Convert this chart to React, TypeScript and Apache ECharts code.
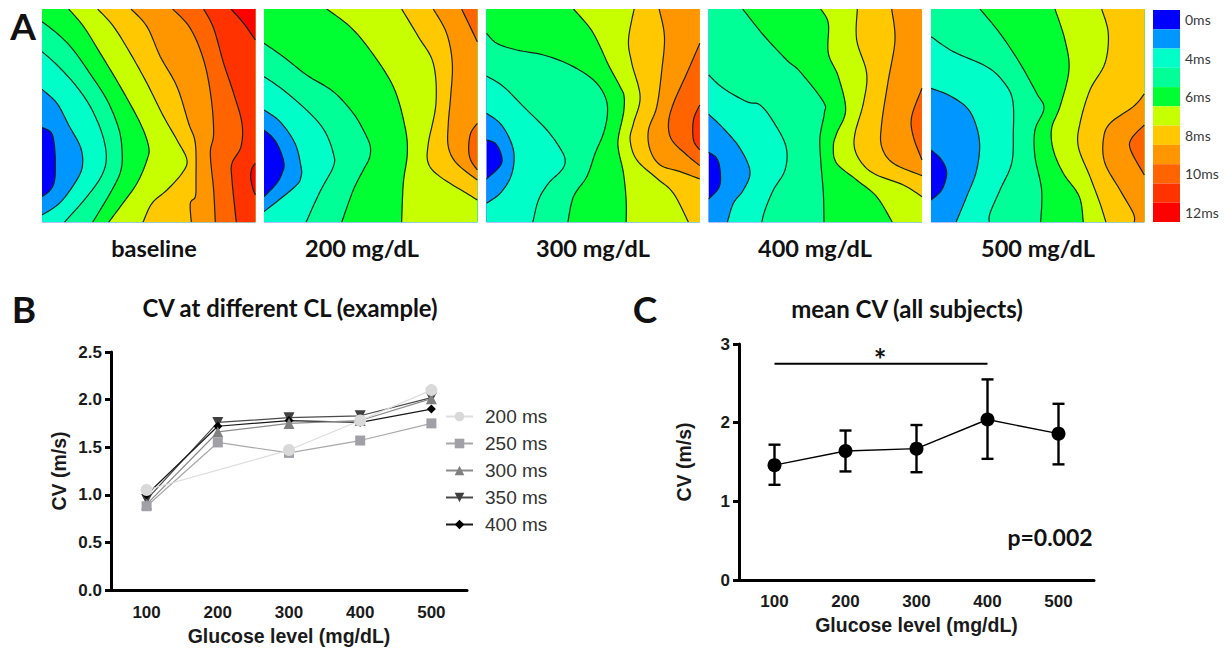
import React, { useEffect, useRef } from "react";
import * as echarts from "echarts";

// ---------- Panel A: isochrone contours ----------
// Each entry: [band filled on the far side of the contour, contour points]
type Contour = [number, number[][]];

const bandColors = ["#0000ff", "#0096ff", "#00ffc8", "#00ff96", "#00ff32", "#c8ff00", "#ffc800", "#ff9600", "#ff6400", "#ff3200", "#ff0000"];
const bandLabels = ["0ms", "", "4ms", "", "6ms", "", "8ms", "", "10ms", "", "12ms"];
const bandUnits = [1, 1, 1, 1, 1, 1, 1, 1, 1, 1, 1];
const mapNames = ["baseline", "200 mg/dL", "300 mg/dL", "400 mg/dL", "500 mg/dL"];

const baselineContours: Contour[] = [
  [1, [[125, 382], [150, 395], [160, 420], [165, 480], [163, 540], [150, 570], [125, 590]]],
  [2, [[125, 268], [170, 310], [205, 375], [240, 440], [247, 490], [235, 530], [195, 590], [165, 620], [125, 645]]],
  [3, [[125, 155], [170, 195], [225, 255], [270, 320], [305, 400], [318, 470], [305, 525], [260, 590], [192, 667]]],
  [4, [[125, 65], [170, 100], [215, 145], [265, 215], [320, 300], [355, 385], [365, 450], [362, 510], [335, 570], [277, 667]]],
  [5, [[205, 27], [250, 80], [300, 160], [360, 260], [420, 370], [445, 440], [440, 480], [410, 550], [360, 620], [325, 667]]],
  [6, [[292, 27], [340, 80], [390, 160], [440, 250], [490, 350], [530, 420], [560, 480], [545, 520], [500, 570], [455, 610], [428, 667]]],
  [7, [[392, 27], [440, 80], [480, 170], [530, 260], [565, 370], [585, 430], [587, 540], [585, 590], [570, 610], [573, 667]]],
  [8, [[517, 27], [570, 85], [610, 180], [632, 290], [640, 400], [630, 460], [640, 570], [645, 667]]],
  [9, [[610, 27], [640, 85], [670, 190], [700, 280], [725, 370], [722, 440], [695, 490], [695, 540], [708, 667]]],
  [10, [[692, 27], [730, 70], [765, 120]]],
  [10, [[765, 490], [755, 505], [751, 530], [756, 560], [765, 585]]],
];
const glucose200Contours: Contour[] = [
  [1, [[792, 390], [820, 415], [840, 450], [852, 490], [848, 515], [830, 550], [792, 590]]],
  [2, [[792, 330], [840, 365], [885, 430], [903, 500], [903, 530], [885, 560], [792, 635]]],
  [3, [[792, 230], [850, 270], [930, 340], [975, 395], [1000, 460], [1000, 500], [960, 575], [918, 667]]],
  [4, [[792, 130], [850, 170], [920, 225], [1000, 275], [1060, 340], [1095, 400], [1111, 440], [1108, 475], [1090, 510], [1060, 570], [1025, 667]]],
  [5, [[980, 27], [1050, 80], [1110, 150], [1180, 260], [1215, 380], [1222, 460], [1210, 550], [1205, 667]]],
  [6, [[1205, 27], [1255, 110], [1300, 190], [1308, 310], [1285, 430], [1285, 490], [1320, 530], [1400, 580], [1432, 600]]],
  [7, [[1300, 27], [1340, 100], [1357, 190], [1352, 290], [1345, 370], [1345, 440], [1370, 490], [1432, 540]]],
  [8, [[1385, 27], [1432, 125]]],
  [8, [[1432, 370], [1412, 400], [1406, 445], [1412, 480], [1432, 510]]],
];
const glucose300Contours: Contour[] = [
  [1, [[19, 420], [45, 430], [62, 460], [62, 495], [19, 537]]],
  [2, [[19, 340], [60, 370], [90, 420], [102, 470], [92, 530], [60, 580], [19, 610]]],
  [3, [[19, 228], [70, 260], [130, 320], [200, 390], [240, 445], [255, 480], [245, 510], [205, 550], [175, 600], [158, 667]]],
  [4, [[19, 100], [50, 130], [110, 150], [190, 165], [270, 195], [340, 240], [375, 290], [382, 340], [370, 400], [345, 460], [320, 530], [280, 590], [263, 667]]],
  [5, [[280, 27], [330, 85], [360, 140], [385, 195], [420, 260], [432, 290], [430, 340], [415, 410], [415, 450], [430, 520], [438, 600], [438, 667]]],
  [6, [[462, 27], [445, 120], [455, 190], [480, 290], [460, 370], [450, 420], [470, 480], [530, 535], [580, 580], [625, 667]]],
  [7, [[537, 27], [553, 110], [545, 210], [530, 320], [505, 390], [510, 450], [540, 495], [600, 515], [659, 537]]],
  [8, [[659, 130], [620, 220], [580, 310], [565, 370], [575, 420], [620, 465], [659, 497]]],
  [9, [[659, 315], [640, 360], [640, 420], [659, 450]]],
];
const glucose400Contours: Contour[] = [
  [1, [[686, 457], [710, 475], [720, 510], [718, 560], [686, 597]]],
  [2, [[686, 343], [730, 385], [780, 445], [810, 515], [790, 570], [760, 610], [742, 667]]],
  [3, [[686, 225], [730, 265], [800, 305], [840, 315], [880, 365], [918, 440], [915, 510], [880, 570], [855, 630], [845, 667]]],
  [4, [[788, 27], [850, 105], [920, 180], [960, 215], [1030, 305], [1033, 340], [1020, 410], [1022, 480], [1030, 580], [1032, 667]]],
  [5, [[1022, 27], [1045, 70], [1045, 160], [1075, 230], [1097, 330], [1070, 400], [1060, 440], [1070, 490], [1130, 540], [1190, 590], [1237, 667]]],
  [6, [[1132, 27], [1130, 120], [1160, 220], [1150, 310], [1125, 400], [1125, 450], [1150, 495], [1190, 525], [1270, 555], [1326, 590]]],
  [7, [[1235, 27], [1245, 120], [1225, 240], [1205, 370], [1205, 440], [1240, 490], [1326, 527]]],
  [8, [[1326, 265], [1295, 350], [1300, 410], [1326, 480]]],
];
const glucose500Contours: Contour[] = [
  [1, [[33, 450], [65, 480], [80, 520], [65, 570], [33, 600]]],
  [2, [[33, 265], [95, 290], [150, 335], [178, 420], [170, 510], [140, 590], [108, 667]]],
  [3, [[33, 110], [100, 155], [200, 200], [250, 245], [278, 300], [280, 400], [275, 490], [240, 570], [210, 640], [208, 667]]],
  [4, [[180, 27], [240, 100], [300, 190], [350, 280], [372, 325], [345, 390], [345, 470], [365, 570], [362, 667]]],
  [5, [[405, 27], [435, 120], [447, 210], [420, 320], [395, 385], [400, 450], [430, 520], [478, 590], [490, 667]]],
  [6, [[545, 27], [565, 100], [555, 190], [510, 270], [480, 370], [475, 440], [510, 530], [540, 610], [558, 667]]],
  [7, [[673, 282], [640, 320], [570, 370], [550, 420], [555, 490], [600, 570], [640, 640], [643, 667]]],
  [8, [[673, 375], [635, 415], [632, 450], [673, 525]]],
];
const allContours = [baselineContours, glucose200Contours, glucose300Contours, glucose400Contours, glucose500Contours];
// left edge of each panel in the reading frame of the contours above
const mapXStart = [125, 792, 19, 686, 33];

// ---------- Panel B ----------
const glucoseLevels = ["100", "200", "300", "400", "500"];
const cl200 = [1.05, null, 1.47, 1.78, 2.1];
const cl250 = [0.88, 1.55, 1.44, 1.57, 1.75];
const cl300 = [0.9, 1.66, 1.75, 1.78, 2.01];
const cl350 = [0.95, 1.76, 1.81, 1.83, 2.02];
const cl400 = [1.0, 1.72, 1.78, 1.76, 1.9];

// ---------- Panel C ----------
const meanCV = [1.46, 1.64, 1.67, 2.04, 1.86];
const meanUpper = [1.72, 1.9, 1.97, 2.55, 2.24];
const meanLower = [1.21, 1.38, 1.37, 1.54, 1.47];
const significance = [2.75, 2.75, 2.75, 2.75, null];

const ARIAL = "'Liberation Sans', Arial, sans-serif";
const CALIBRI = "Lato, 'Noto Sans', sans-serif";

function spline(pts: number[][]): number[][] {
  const out: number[][] = [];
  const n = pts.length;
  for (let i = 0; i < n - 1; i++) {
    const p0 = pts[Math.max(0, i - 1)], p1 = pts[i], p2 = pts[i + 1], p3 = pts[Math.min(n - 1, i + 2)];
    for (let s = 0; s < 8; s++) {
      const t = s / 8, t2 = t * t, t3 = t2 * t;
      const f = (a: number, b: number, c: number, d: number) =>
        0.5 * (2 * b + (c - a) * t + (2 * a - 5 * b + 4 * c - d) * t2 + (3 * b - a - 3 * c + d) * t3);
      out.push([f(p0[0], p1[0], p2[0], p3[0]), f(p0[1], p1[1], p2[1], p3[1])]);
    }
  }
  out.push(pts[n - 1]);
  return out;
}

// Walks the panel's border from the end of a contour back to its start, so
// the polygon encloses the later-activated side of the contour.
function borderWalk(end: number[], start: number[], x0: number, x1: number, y0: number, y1: number): number[][] {
  const S = x1 - x0;
  const param = (p: number[]) => {
    const d = [Math.abs(p[1] - y1), Math.abs(p[0] - x1), Math.abs(p[1] - y0), Math.abs(p[0] - x0)];
    const e = d.indexOf(Math.min(...d));
    if (e === 0) return p[0] - x0;
    if (e === 1) return S + (y1 - p[1]);
    if (e === 2) return 2 * S + (x1 - p[0]);
    return 3 * S + (p[1] - y0);
  };
  const corners: [number, number[]][] = [
    [S, [x1, y1]], [2 * S, [x1, y0]], [3 * S, [x0, y0]], [4 * S, [x0, y1]],
    [5 * S, [x1, y1]], [6 * S, [x1, y0]], [7 * S, [x0, y0]], [8 * S, [x0, y1]],
  ];
  const te = param(end);
  let ts = param(start);
  if (ts <= te) ts += 4 * S;
  return corners.filter((c) => c[0] > te && c[0] < ts).map((c) => c[1]);
}

function App() {
  const ref = useRef<HTMLDivElement>(null);
  useEffect(() => {
    const chart = echarts.init(ref.current!, undefined, { renderer: "svg" });

    const grids: any[] = [];
    const xAxes: any[] = [];
    const yAxes: any[] = [];
    const series: any[] = [];

    const panelLeft = [42, 264, 486.5, 708.7, 931];
    const S = 640;
    allContours.forEach((contours, p) => {
      const x0 = mapXStart[p], x1 = x0 + S, y0 = 27, y1 = 27 + S;
      grids.push({ left: panelLeft[p], top: 9, width: 213.3, height: 213.3, show: true, backgroundColor: bandColors[0], borderWidth: 0 });
      xAxes.push({ type: "value", gridIndex: p, min: x0, max: x1, show: false });
      yAxes.push({ type: "value", gridIndex: p, min: y0, max: y1, inverse: true, show: false });
      series.push({
        type: "custom",
        name: mapNames[p],
        coordinateSystem: "cartesian2d",
        xAxisIndex: p,
        yAxisIndex: p,
        clip: true,
        silent: true,
        data: contours.map((_, i) => [i, 0]),
        encode: { x: 0, y: 1 },
        renderItem: (params: any, api: any) => {
          const [band, pts] = contours[api.value(0)];
          const smooth = spline(pts);
          const tail = borderWalk(pts[pts.length - 1], pts[0], x0, x1, y0, y1);
          const px = (q: number[]) => api.coord(q);
          return {
            type: "group",
            children: [
              { type: "polygon", shape: { points: [...smooth, ...tail].map(px) }, style: { fill: bandColors[band], stroke: "none" } },
              { type: "polyline", shape: { points: smooth.map(px) }, style: { fill: "none", stroke: "#10251a", lineWidth: 1.2 } },
            ],
          };
        },
      });
    });

    // colour bar
    grids.push({ left: 1153, top: 10, width: 27, height: 212 });
    xAxes.push({ type: "value", gridIndex: 5, min: 0, max: 1, show: false });
    yAxes.push({
      type: "category", gridIndex: 5, inverse: true, position: "right", data: bandLabels,
      axisLine: { show: false }, axisTick: { show: false },
      axisLabel: { interval: 0, margin: 5, fontFamily: CALIBRI, fontSize: 14, color: "#3a3a3a" },
    });
    series.push({
      type: "bar", xAxisIndex: 5, yAxisIndex: 5, barWidth: "100%", silent: true,
      data: bandUnits.map((v, i) => ({ value: v, itemStyle: { color: bandColors[i] } })),
    });

    const cartesianX = (gridIndex: number, nameGap: number, margin: number) => ({
      type: "category", gridIndex, data: glucoseLevels, boundaryGap: true,
      name: "Glucose level (mg/dL)", nameLocation: "middle", nameGap,
      nameTextStyle: { fontFamily: ARIAL, fontWeight: "bold", fontSize: 19.5, color: "#1a1a1a" },
      axisLine: { lineStyle: { color: "#000", width: 3 } },
      axisTick: { alignWithLabel: true, length: 6, lineStyle: { color: "#000", width: 3 } },
      axisLabel: { interval: 0, margin, fontFamily: ARIAL, fontWeight: "bold", fontSize: 17, color: "#1a1a1a" },
    });
    const cartesianY = (gridIndex: number, max: number, interval: number, fmt: (v: number) => string, nameGap: number) => ({
      type: "value", gridIndex, min: 0, max, interval,
      name: "CV (m/s)", nameLocation: "middle", nameGap, nameRotate: 90,
      nameTextStyle: { fontFamily: ARIAL, fontWeight: "bold", fontSize: 19.5, color: "#1a1a1a" },
      splitLine: { show: false },
      axisLine: { show: true, lineStyle: { color: "#000", width: 3 } },
      axisTick: { show: true, length: 6, lineStyle: { color: "#000", width: 3 } },
      axisLabel: { margin: 9, fontFamily: ARIAL, fontWeight: "bold", fontSize: 17, color: "#1a1a1a", formatter: fmt },
    });

    // Panel B
    grids.push({ left: 111, top: 352, width: 356, height: 238 });
    xAxes.push(cartesianX(6, 36, 14));
    yAxes.push(cartesianY(6, 2.5, 0.5, (v) => v.toFixed(1), 42));
    const clSeries: [string, (number | null)[], string, string, string, number, number][] = [
      ["200 ms", cl200, "#d9d9d9", "#dddddd", "circle", 12, 7],
      ["250 ms", cl250, "#a0a0a6", "#a8a8aa", "rect", 10, 6],
      ["300 ms", cl300, "#808080", "#8a8a8a", "triangle", 11, 5],
      ["350 ms", cl350, "#3f3f3f", "#4a4a4a", "path://M0 0H10L5 10Z", 11, 3],
      ["400 ms", cl400, "#000000", "#1a1a1a", "diamond", 9, 4],
    ];
    clSeries.forEach(([name, data, fill, line, symbol, size, z]) => {
      series.push({
        type: "line", name, xAxisIndex: 6, yAxisIndex: 6, data, connectNulls: true, z,
        symbol, symbolSize: size, showAllSymbol: true, silent: true,
        itemStyle: { color: fill, opacity: 1 },
        lineStyle: { color: line, width: 1.2 },
      });
    });

    // Panel C
    grids.push({ left: 739, top: 344, width: 355, height: 236 });
    xAxes.push(cartesianX(7, 35, 13));
    yAxes.push(cartesianY(7, 3, 1, (v) => String(v), 45));
    series.push({
      type: "line", name: "significance", xAxisIndex: 7, yAxisIndex: 7, data: significance,
      symbol: "none", silent: true, lineStyle: { color: "#000", width: 2 },
    });
    series.push({
      type: "custom", name: "sd", xAxisIndex: 7, yAxisIndex: 7, silent: true,
      data: meanCV.map((_, i) => [i, meanLower[i], meanUpper[i]]),
      encode: { x: 0, y: [1, 2] },
      renderItem: (params: any, api: any) => {
        const lo = api.coord([api.value(0), api.value(1)]);
        const hi = api.coord([api.value(0), api.value(2)]);
        const style = { stroke: "#000", lineWidth: 2.4, fill: "none" };
        const cap = 6;
        return {
          type: "group",
          children: [
            { type: "line", shape: { x1: lo[0], y1: lo[1], x2: hi[0], y2: hi[1] }, style },
            { type: "line", shape: { x1: lo[0] - cap, y1: lo[1], x2: lo[0] + cap, y2: lo[1] }, style },
            { type: "line", shape: { x1: hi[0] - cap, y1: hi[1], x2: hi[0] + cap, y2: hi[1] }, style },
          ],
        };
      },
    });
    series.push({
      type: "line", name: "mean CV", xAxisIndex: 7, yAxisIndex: 7, data: meanCV, z: 5, silent: true,
      symbol: "circle", symbolSize: 14, itemStyle: { color: "#000" }, lineStyle: { color: "#000", width: 1.4 },
    });

    const label = (text: string, left: number, top: number, fontSize: number, fontFamily = CALIBRI, fontWeight: any = "bold") => ({
      text, left, top, padding: 0, textAlign: "center", textVerticalAlign: "middle",
      textStyle: { fontFamily, fontSize, fontWeight, color: "#111" },
    });

    chart.setOption({
      animation: false,
      backgroundColor: "#fff",
      title: [
        label("A", 23, 25, 37),
        label("B", 24, 308, 37),
        label("C", 645, 308, 37),
        label(mapNames[0], 154, 248, 23.5),
        label(mapNames[1], 362, 248, 23.5),
        label(mapNames[2], 593, 248, 23.5),
        label(mapNames[3], 815, 248, 23.5),
        label(mapNames[4], 1038, 248, 23.5),
        label("CV at different CL (example)", 290, 308, 23.8),
        label("mean CV (all subjects)", 907, 308, 24),
        label("*", 880, 359, 30),
        label("p=0.002", 1050, 537, 23),
      ],
      legend: {
        show: true, orient: "vertical", left: 445, top: 407, padding: 0,
        itemWidth: 27, itemHeight: 12, itemGap: 8,
        data: clSeries.map((s) => s[0]),
        textStyle: { fontFamily: ARIAL, fontSize: 19, color: "#333", padding: [0, 0, 0, 7] },
      },
      grid: grids,
      xAxis: xAxes,
      yAxis: yAxes,
      series,
    });
    return () => chart.dispose();
  }, []);
  return <div ref={ref} style={{ position: "fixed", left: 0, top: 0, width: 1232, height: 650, background: "#fff" }} />;
}

export default App;
